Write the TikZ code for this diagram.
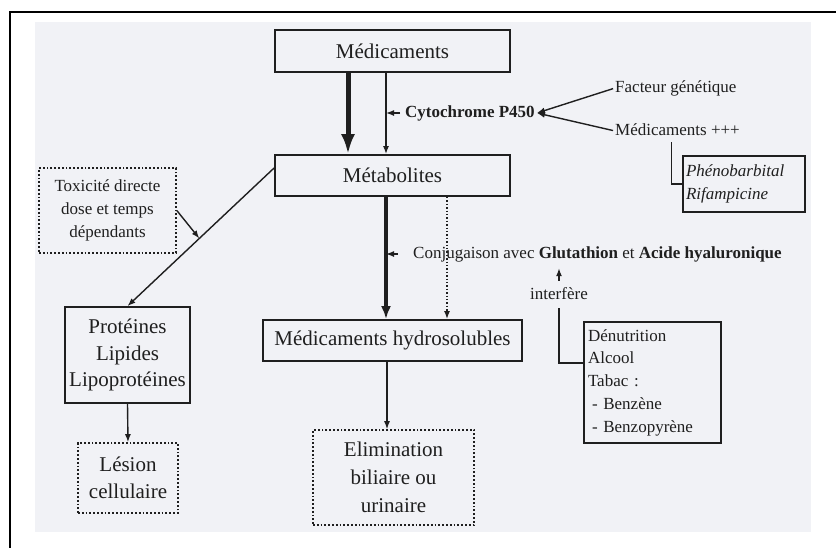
\documentclass[tikz,border=0pt]{standalone}
\usepackage{fontspec}
\setmainfont{Liberation Serif}
\usetikzlibrary{positioning}
\usetikzlibrary{arrows.meta}
\definecolor{paperbg}{RGB}{241,242,246}
\colorlet{inkc}{black!88}
\newcommand{\bigsize}{\fontsize{21}{26.5}\selectfont}
\newcommand{\smallsize}{\fontsize{17}{22.75}\selectfont}

\begin{document}
\begin{tikzpicture}[x=1pt,y=-1pt,
  box/.style={draw=inkc,text=inkc,line width=1.8pt,shape=rectangle,inner sep=0pt,align=center,font=\bigsize},
  dotbox/.style={box,dotted,line width=1.6pt},
  listbox/.style={draw=inkc,text=inkc,line width=1.8pt,shape=rectangle,inner ysep=0pt,align=left,font=\smallsize},
  lbl/.style={text=inkc,inner sep=0pt,text height=12pt,text depth=4pt,font=\smallsize},
  plainline/.style={draw=inkc,line width=1.4pt},
  smallarrow/.style={plainline,-{Latex[length=8pt,width=6pt]}},
  midarrow/.style={draw=inkc,line width=3.2pt,-{Latex[length=13pt,width=10pt]}},
  heavyarrow/.style={draw=inkc,line width=5pt,-{Latex[length=20pt,width=14pt]}}]
\useasboundingbox (0,0) rectangle (836,547);
\fill[paperbg] (35,22) rectangle (811,532);
\draw[line width=2pt] (10,560) -- (10,12) -- (850,12);

% main column
\node[box,minimum width=235pt,minimum height=42pt] (med) at (392.5,51) {Médicaments};
\node[box,minimum width=235pt,minimum height=41pt] (met) at (392.5,175.5) {Métabolites};
\node[box,minimum width=259pt,minimum height=41pt] (hyd) at (392.5,340.5) {Médicaments hydrosolubles};
\node[dotbox,minimum width=161pt,minimum height=95pt,font=\fontsize{21}{28}\selectfont]
(elim) at (393.5,477.5) {Elimination\\biliaire ou\\urinaire};

% left branch
\node[dotbox,minimum width=137pt,minimum height=85pt,font=\smallsize]
(tox) at (107.5,210.5) {Toxicité directe\\dose et temps\\dépendants};
\node[box,minimum width=125pt,minimum height=96pt] (prot) at (127.5,355) {Protéines\\Lipides\\Lipoprotéines};
\node[dotbox,minimum width=100pt,minimum height=70pt,font=\fontsize{21}{27}\selectfont]
(lesion) at (128,478) {Lésion\\cellulaire};

% labels
\node[lbl,anchor=west,font=\smallsize\bfseries] (cyto) at (405,113) {Cytochrome P450};
\node[lbl,anchor=west] (fact) at (615,88) {Facteur génétique};
\node[lbl,anchor=west] (medp) at (615,131) {Médicaments +++};
\node[listbox,text width=116pt,inner xsep=3pt,minimum height=56pt,font=\smallsize\itshape]
(pheno) at (744,184) {Phénobarbital\\Rifampicine};
\node[lbl,anchor=west] (conj) at (413,254) {Conjugaison avec \textbf{Glutathion} et \textbf{Acide hyaluronique}};
\node[lbl] (interf) at (559,295) {interfère};
\node[listbox,text width=129pt,inner xsep=4pt,minimum height=121pt]
(denut) at (652.5,382.5) {Dénutrition\\Alcool\\Tabac :\\\hspace*{4pt}- Benzène\\\hspace*{4pt}- Benzopyrène};

\coordinate (medthin) at ([xshift=-6.5pt]med.south);
\coordinate (metthick) at ([xshift=-6.5pt]met.south);
\coordinate (hydout) at ([xshift=-5.5pt]hyd.south);
\coordinate (medpdown) at ([xshift=-6pt]medp.south);

% connectors
\draw[heavyarrow] ([xshift=-44.5pt]med.south) -- ([xshift=-44.5pt]met.north);
\draw[smallarrow] (medthin) -- (medthin |- met.north);
\draw[smallarrow] ([xshift=-5pt]cyto.west) -- (medthin |- cyto.west);
\draw[smallarrow,shorten <=2pt] (fact.west) -- ([xshift=2pt]cyto.east);
\draw[smallarrow,shorten <=2pt] (medp.west) -- ([xshift=2pt]cyto.east);
\draw[plainline,shorten <=3pt] (medpdown) |- (pheno.west);

\draw[midarrow] (metthick) -- (metthick |- hyd.north);
\draw[smallarrow,dotted,line width=1.6pt] ([xshift=54.5pt]met.south) -- ([xshift=54.5pt]hyd.north);
\draw[smallarrow] ([xshift=-15pt]conj.west) -- (metthick |- conj.west);
\draw[smallarrow,shorten <=6pt,shorten >=6pt] (interf.north) -- (interf.north |- conj.south);
\draw[plainline,shorten <=5pt] (interf.south) |- ([yshift=19.5pt]denut.west);
\draw[smallarrow] (hydout) -- (hydout |- elim.north);

\draw[smallarrow] ([yshift=7.5pt]met.west) -- coordinate[pos=0.51] (toxhit) (prot.north);
\draw[smallarrow] (tox.east) -- (toxhit);
\draw[smallarrow] (prot.south) -- (lesion.north);

\end{tikzpicture}
\end{document}
